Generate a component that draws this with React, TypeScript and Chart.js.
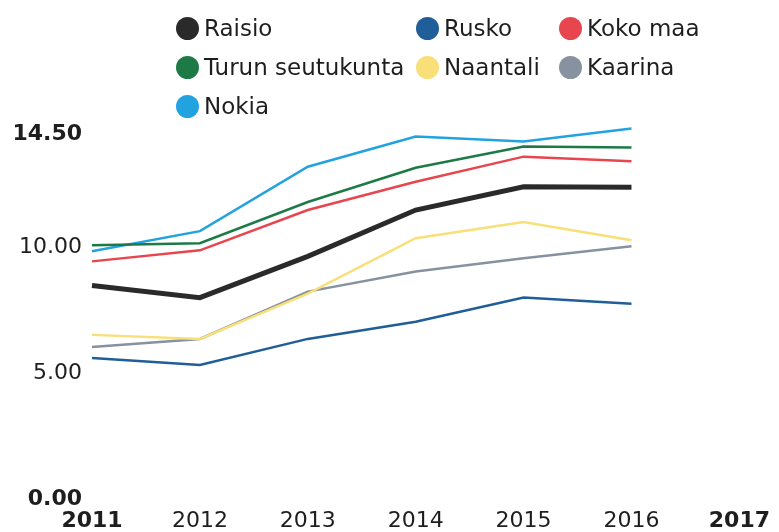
import React, { useEffect, useRef } from "react";
import { Chart, registerables } from "chart.js";

Chart.register(...registerables);

const years = ["2011", "2012", "2013", "2014", "2015", "2016", "2017"];
const yTicks = [0, 5, 10, 14.5];

const raisio = [8.48, 8.0, 9.64, 11.48, 12.4, 12.38];
const rusko = [5.6, 5.32, 6.36, 7.04, 8.0, 7.76];
const kokoMaa = [9.44, 9.88, 11.48, 12.6, 13.6, 13.42];
const turunSeutukunta = [10.08, 10.16, 11.8, 13.16, 14.0, 13.96];
const naantali = [6.52, 6.36, 8.16, 10.36, 11.0, 10.28];
const kaarina = [6.04, 6.36, 8.24, 9.04, 9.56, 10.04];
const nokia = [9.84, 10.64, 13.2, 14.4, 14.2, 14.72];

const seriesNames = ["Raisio", "Rusko", "Koko maa", "Turun seutukunta", "Naantali", "Kaarina", "Nokia"];
const seriesData = [raisio, rusko, kokoMaa, turunSeutukunta, naantali, kaarina, nokia];
const seriesColors = ["#2a2a2a", "#1f5e98", "#e8464f", "#1d7a46", "#f8df78", "#87919f", "#22a2de"];
const seriesWidths = [5, 2.5, 2.5, 2.5, 2.5, 2.5, 2.5];

const FONT = "'DejaVu Sans', sans-serif";

// legend grid placement: [left of circle, row centre]
const legendPos: [number, number][] = [
  [176, 28],
  [416, 28],
  [559, 28],
  [176, 67],
  [416, 67],
  [559, 67],
  [176, 106],
];

export default function App() {
  const canvasRef = useRef<HTMLCanvasElement | null>(null);

  useEffect(() => {
    const canvas = canvasRef.current;
    if (!canvas) return;
    const chart = new Chart(canvas, {
      type: "line",
      data: {
        labels: years,
        datasets: seriesNames.map((name, i) => ({
          label: name,
          data: seriesData[i],
          borderColor: seriesColors[i],
          backgroundColor: seriesColors[i],
          borderWidth: seriesWidths[i],
          pointRadius: 0,
          tension: 0,
          fill: false,
          clip: false,
          order: i === 0 ? 0 : 1,
        })),
      },
      options: {
        animation: false,
        responsive: false,
        maintainAspectRatio: false,
        layout: { padding: { top: 134, left: 0, right: 39, bottom: 0 } },
        plugins: {
          legend: { display: false },
          tooltip: { enabled: false },
        },
        scales: {
          x: {
            offset: false,
            grid: { display: false, drawTicks: false },
            border: { display: false },
            afterFit: (scale: any) => {
              scale.height = 33;
            },
            ticks: {
              color: "#1e1e1e",
              padding: 9,
              maxRotation: 0,
              autoSkip: false,
              font: (ctx: any) => ({
                family: FONT,
                size: 22,
                weight: ctx.index === 0 || ctx.index === years.length - 1 ? "bold" : "normal",
              }),
            },
          },
          y: {
            min: 0,
            max: 14.5,
            grid: { display: false, drawTicks: false },
            border: { display: false },
            afterBuildTicks: (scale: any) => {
              scale.ticks = yTicks.map((v) => ({ value: v }));
            },
            afterFit: (scale: any) => {
              scale.width = 92;
            },
            ticks: {
              color: "#1e1e1e",
              padding: 10,
              callback: (v: any) => Number(v).toFixed(2),
              font: (ctx: any) => ({
                family: FONT,
                size: 22,
                weight: ctx.tick && (ctx.tick.value === 0 || ctx.tick.value === 14.5) ? "bold" : "normal",
              }),
            },
          },
        },
      },
    });
    return () => chart.destroy();
  }, []);

  return (
    <div style={{ position: "fixed", left: 0, top: 0, width: 779, height: 532, background: "#fff" }}>
      <canvas ref={canvasRef} width={779} height={532} style={{ position: "absolute", left: 0, top: 0 }} />
      {seriesNames.map((name, i) => (
        <div
          key={name}
          style={{
            position: "absolute",
            left: legendPos[i][0],
            top: legendPos[i][1] - 14,
            height: 28,
            display: "flex",
            alignItems: "center",
            fontFamily: FONT,
            fontSize: 23,
            color: "#1e1e1e",
            whiteSpace: "nowrap",
          }}
        >
          <span
            style={{
              display: "inline-block",
              width: 23,
              height: 23,
              borderRadius: "50%",
              background: seriesColors[i],
              marginRight: 5,
            }}
          />
          <span>{name}</span>
        </div>
      ))}
    </div>
  );
}
